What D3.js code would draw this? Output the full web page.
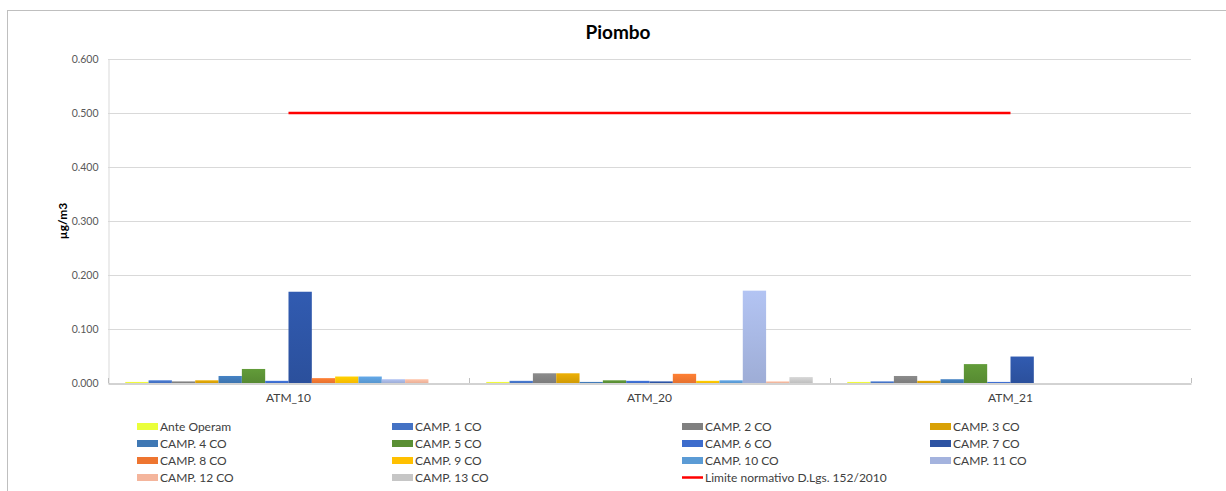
<!DOCTYPE html>
<html>
<head>
<meta charset="utf-8">
<script src="https://cdn.jsdelivr.net/npm/d3@7"></script>
<style>
  body { margin: 0; background: #fff; }
  text { font-family: Lato, "Open Sans", sans-serif; }
</style>
</head>
<body>
<div id="chart"></div>
<script>
// Data
const categories = ["ATM_10", "ATM_20", "ATM_21"];
const seriesNames = ["Ante Operam", "CAMP. 1 CO", "CAMP. 2 CO", "CAMP. 3 CO", "CAMP. 4 CO",
  "CAMP. 5 CO", "CAMP. 6 CO", "CAMP. 7 CO", "CAMP. 8 CO", "CAMP. 9 CO",
  "CAMP. 10 CO", "CAMP. 11 CO", "CAMP. 12 CO", "CAMP. 13 CO"];
const seriesColors = ["#eaff3a", "#4472c4", "#808080", "#d9a105", "#3f78b4",
  "#5a8f34", "#3d6ccc", "#2d53a2", "#ee7530", "#ffc000",
  "#5b9bd5", "#a4b3de", "#f4b59c", "#c6c6c6"];
// one array per category, one value per series (null = no measurement)
const valuesATM10 = [0.002, 0.005, 0.003, 0.005, 0.013, 0.026, 0.004, 0.169, 0.009, 0.012, 0.012, 0.007, 0.007, null];
const valuesATM20 = [0.002, 0.004, 0.018, 0.018, 0.002, 0.005, 0.004, 0.003, 0.017, 0.004, 0.005, 0.171, 0.003, 0.011];
const valuesATM21 = [0.002, 0.003, 0.013, 0.004, 0.007, 0.035, 0.002, 0.049, null, null, null, null, null, null];
const limitName = "Limite normativo D.Lgs. 152/2010";
const limitValues = [0.5, 0.5, 0.5];
const yTicks = [0, 0.1, 0.2, 0.3, 0.4, 0.5, 0.6];

const W = 1226, H = 491;
const plot = { left: 108, right: 1191, top: 59, bottom: 383 };

const svg = d3.select("#chart").append("svg")
  .attr("width", W).attr("height", H);

// chart frame
svg.append("rect")
  .attr("x", 7.5).attr("y", 10.5)
  .attr("width", W).attr("height", H)
  .attr("fill", "#fff").attr("stroke", "#bfbfbf");

const rows = [valuesATM10, valuesATM20, valuesATM21];

const x0 = d3.scaleBand().domain(categories).range([plot.left, plot.right]).padding(0);
const x1 = d3.scaleBand().domain(seriesNames).range([0, x0.bandwidth()])
  .paddingInner(0).paddingOuter(0.74);
const y = d3.scaleLinear().domain([0, 0.6]).range([plot.bottom, plot.top]);

// gradients for bars
const defs = svg.append("defs");
seriesColors.forEach((c, i) => {
  const g = defs.append("linearGradient").attr("id", "g" + i)
    .attr("x1", 0).attr("y1", 0).attr("x2", 0).attr("y2", 1);
  g.append("stop").attr("offset", "0%").attr("stop-color", d3.color(c).brighter(0.25));
  g.append("stop").attr("offset", "100%").attr("stop-color", d3.color(c).darker(0.1));
});

// gridlines
svg.append("g")
  .selectAll("line")
  .data(yTicks.slice(1))
  .join("line")
  .attr("x1", plot.left).attr("x2", plot.right)
  .attr("y1", d => Math.round(y(d)) + 0.5).attr("y2", d => Math.round(y(d)) + 0.5)
  .attr("stroke", "#d9d9d9");

// y axis
const yAxis = svg.append("g")
  .attr("transform", `translate(${plot.left + 0.5},0.5)`)
  .call(d3.axisLeft(y).tickValues(yTicks).tickFormat(d3.format(".3f")).tickSize(0).tickPadding(10));
yAxis.select(".domain").attr("stroke", "#d9d9d9");
yAxis.selectAll("text").attr("fill", "#595959").style("font-size", "10.5px")
  .style("font-family", "Lato, sans-serif");

// bars
const groups = svg.append("g")
  .selectAll("g")
  .data(categories)
  .join("g")
  .attr("transform", d => `translate(${x0(d)},0)`);

groups.selectAll("rect")
  .data((d, ci) => seriesNames.map((s, si) => ({ s, si, v: rows[ci][si] })).filter(e => e.v != null))
  .join("rect")
  .attr("x", d => x1(d.s))
  .attr("width", x1.bandwidth())
  .attr("y", d => y(d.v))
  .attr("height", d => y(0) - y(d.v))
  .attr("fill", d => `url(#g${d.si})`);

// x axis
const xAxis = svg.append("g")
  .attr("transform", `translate(0,${plot.bottom + 0.5})`)
  .call(d3.axisBottom(x0).tickSize(0).tickPadding(10));
xAxis.select(".domain").attr("stroke", "#a6a6a6");
xAxis.selectAll("text").attr("fill", "#404040").style("font-size", "12px")
  .style("font-family", "Lato, sans-serif");
// inside tick marks at category boundaries
svg.append("g")
  .selectAll("line")
  .data(d3.range(categories.length + 1))
  .join("line")
  .attr("x1", i => Math.round(plot.left + i * x0.step()) + 0.5)
  .attr("x2", i => Math.round(plot.left + i * x0.step()) + 0.5)
  .attr("y1", plot.bottom - 5).attr("y2", plot.bottom)
  .attr("stroke", "#bfbfbf");

// limit line
const line = d3.line()
  .x((d, i) => x0(categories[i]) + x0.bandwidth() / 2)
  .y(d => y(d));
svg.append("path")
  .datum(limitValues)
  .attr("d", line)
  .attr("fill", "none")
  .attr("stroke", "#ff0000")
  .attr("stroke-width", 2.5);

// title
svg.append("text")
  .attr("x", 618).attr("y", 39)
  .attr("text-anchor", "middle")
  .style("font-size", "19px").style("font-weight", "bold")
  .attr("fill", "#000")
  .text("Piombo");

// y label
svg.append("text")
  .attr("transform", `translate(67,221) rotate(-90)`)
  .attr("text-anchor", "middle")
  .style("font-size", "12px").style("font-weight", "bold")
  .attr("fill", "#000")
  .text("µg/m3");

// legend
const legendItems = seriesNames.map((s, i) => ({ name: s, color: seriesColors[i], type: "bar" }))
  .concat([{ name: limitName, color: "#ff0000", type: "line" }]);
const colX = [137, 392, 682, 930];
const rowY = [426, 443, 460, 477];

const legend = svg.append("g")
  .selectAll("g")
  .data(legendItems)
  .join("g")
  .attr("transform", (d, i) => `translate(${colX[i % 4]},${rowY[Math.floor(i / 4)]})`);

legend.filter(d => d.type === "bar").append("rect")
  .attr("x", 0).attr("y", -3).attr("width", 21).attr("height", 7)
  .attr("fill", d => d.color);
legend.filter(d => d.type === "line").append("line")
  .attr("x1", 0).attr("x2", 21).attr("y1", 0.5).attr("y2", 0.5)
  .attr("stroke", d => d.color).attr("stroke-width", 2.5);
legend.append("text")
  .attr("x", 23).attr("y", 4.5)
  .attr("fill", "#404040")
  .style("font-size", "12px")
  .text(d => d.name);
</script>
</body>
</html>
